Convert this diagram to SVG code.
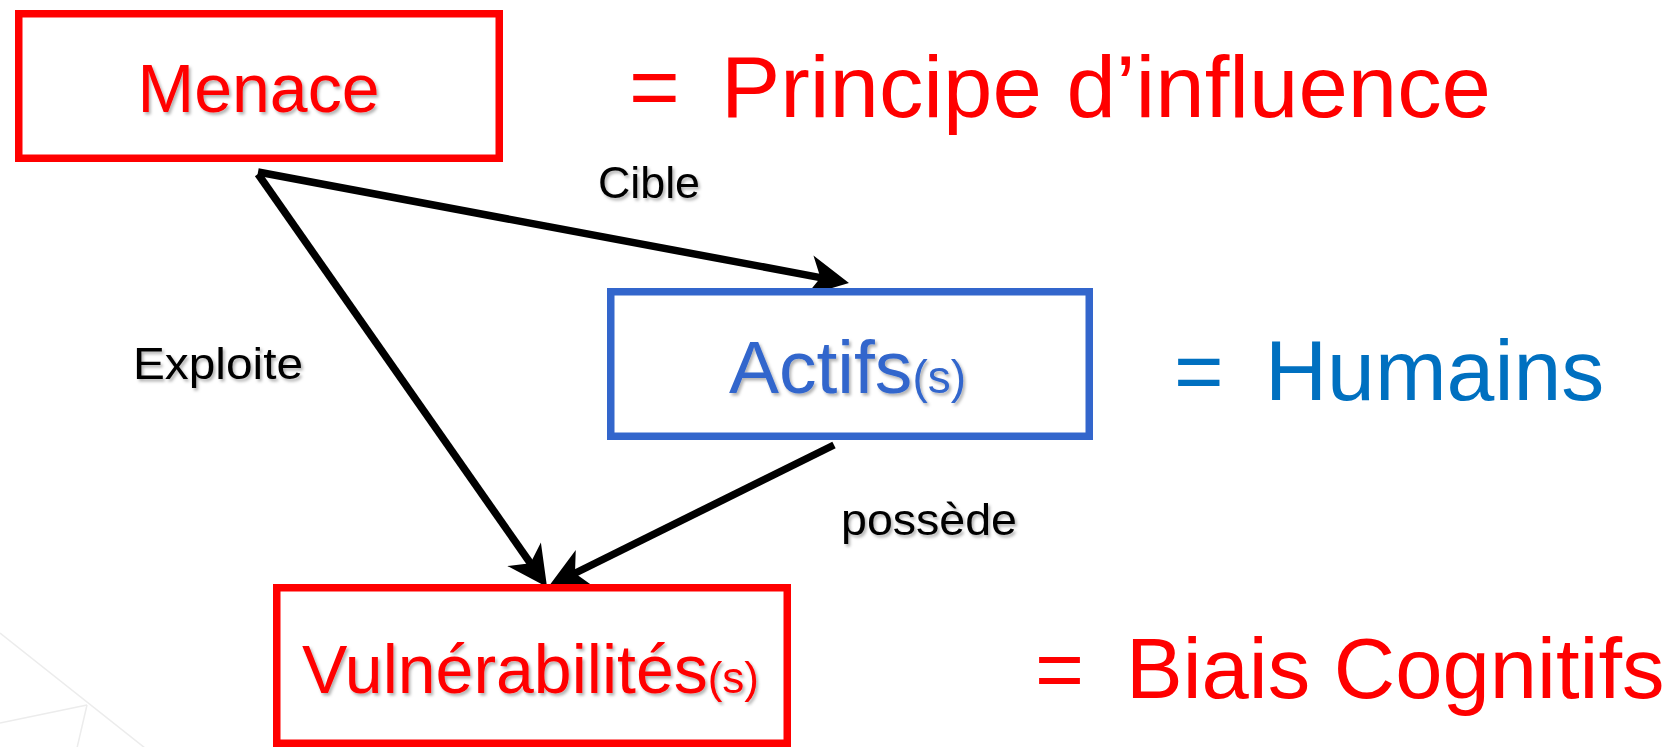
<svg xmlns="http://www.w3.org/2000/svg" width="1671" height="747" viewBox="0 0 1671 747">
  <defs>
    <style>
      text { font-family: "Liberation Sans", Arial, sans-serif; }
      .box { fill: #ffffff; stroke-width: 7.5; }
      .red-box { stroke: #ff0000; }
      .blue-box { stroke: #3366cc; }
      .red { fill: #ff0000; }
      .blue { fill: #3366cc; }
      .blue2 { fill: #0070c0; }
      .lbl { fill: #000000; font-size: 45px; }
      .edge { stroke: #000000; stroke-width: 7.5; fill: none; marker-end: url(#arrow); }
      .bg { stroke: #ececec; stroke-width: 1.5; fill: none; }
      .shadow { filter: url(#txtshadow); }
    </style>
    <filter id="txtshadow" x="-10%" y="-20%" width="120%" height="150%">
      <feDropShadow dx="2" dy="2.5" stdDeviation="1.5" flood-color="#000000" flood-opacity="0.3"/>
    </filter>
    <marker id="arrow" markerUnits="userSpaceOnUse" viewBox="-44 -23 46 46" markerWidth="46" markerHeight="46" refX="-25" refY="0" orient="auto">
      <path d="M0,0 L-40,-20.5 L-29,0 L-40,20.5 Z" fill="#000000"/>
    </marker>
  </defs>

  <rect x="0" y="0" width="1671" height="747" fill="#ffffff"/>

  <g id="background">
    <path class="bg" d="M0,633 L145,748"/>
    <path class="bg" d="M0,723 L87,705"/>
    <path class="bg" d="M87,705 L77,748"/>
  </g>

  <g id="connectors">
    <g id="edge-cible">
      <path class="edge" d="M258,172 L824.4,278.4"/>
      <text class="lbl shadow" x="598" y="198" textLength="102" lengthAdjust="spacingAndGlyphs">Cible</text>
    </g>
    <g id="edge-exploite">
      <path class="edge" d="M258,174 L532.7,566.5"/>
      <text class="lbl shadow" x="133" y="379" textLength="170" lengthAdjust="spacingAndGlyphs">Exploite</text>
    </g>
    <g id="edge-possede">
      <path class="edge" d="M834,445 L571.4,575"/>
      <text class="lbl shadow" x="841" y="535" textLength="176" lengthAdjust="spacingAndGlyphs">possède</text>
    </g>
  </g>

  <g id="node-menace">
    <rect class="box red-box" x="18.75" y="13.75" width="480.5" height="144.5"/>
    <text class="red shadow" x="258.5" y="112" font-size="68" text-anchor="middle">Menace</text>
  </g>

  <g id="node-actifs">
    <rect class="box blue-box" x="610.75" y="291.75" width="478.5" height="144.5"/>
    <text class="blue shadow" x="729" y="393" font-size="75">Actifs<tspan font-size="46">(s)</tspan></text>
  </g>

  <g id="node-vulnerabilites">
    <rect class="box red-box" x="276.75" y="587.75" width="510.5" height="155.5"/>
    <text class="red shadow" x="302" y="693" font-size="68">Vulnérabilités<tspan font-size="44">(s)</tspan></text>
  </g>

  <g id="eq-principe">
    <text class="red" x="629" y="117" font-size="87">=</text>
    <text class="red" x="721" y="117" font-size="88" textLength="770" lengthAdjust="spacingAndGlyphs">Principe d’influence</text>
  </g>

  <g id="eq-humains">
    <text class="blue2" x="1174" y="400" font-size="85">=</text>
    <text class="blue2" x="1265" y="400" font-size="86">Humains</text>
  </g>

  <g id="eq-biais">
    <text class="red" x="1035" y="698" font-size="84">=</text>
    <text class="red" x="1126" y="698" font-size="85">Biais Cognitifs</text>
  </g>
</svg>
